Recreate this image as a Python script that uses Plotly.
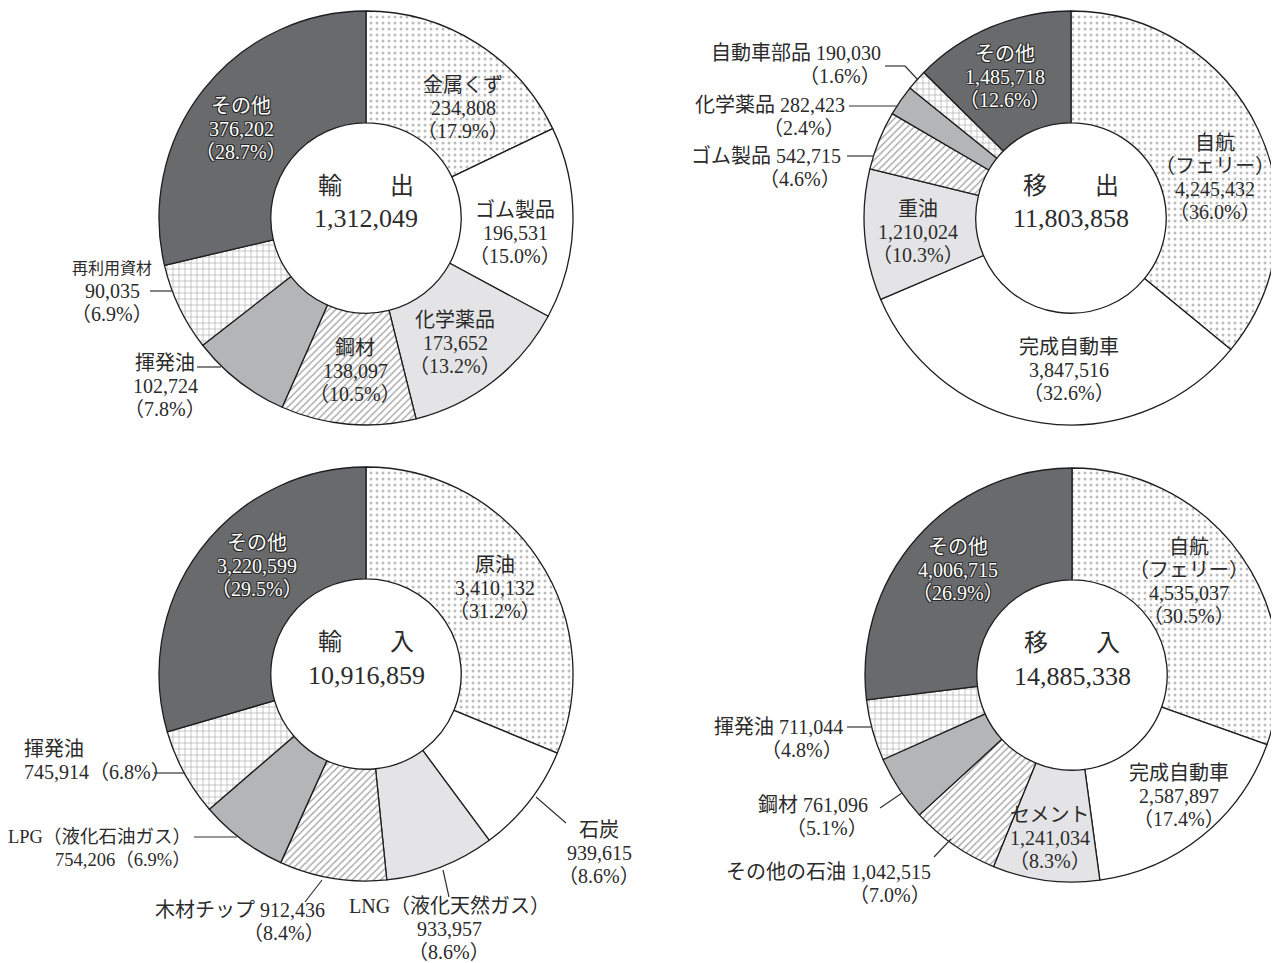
import plotly.graph_objects as go

# page body has an 8px margin: the figure is drawn 8px in from the top-left
OFF = 8
W, H = 1279 - OFF, 963 - OFF

# ---------------- data ----------------
export_names = ["金属くず", "ゴム製品", "化学薬品", "鋼材", "揮発油", "再利用資材", "その他"]
export_values = [234808, 196531, 173652, 138097, 102724, 90035, 376202]

outbound_names = ["自航\n（フェリー）", "完成自動車", "重油", "ゴム製品", "化学薬品", "自動車部品", "その他"]
outbound_values = [4245432, 3847516, 1210024, 542715, 282423, 190030, 1485718]

import_names = ["原油", "石炭", "LNG（液化天然ガス）", "木材チップ", "LPG（液化石油ガス）", "揮発油", "その他"]
import_values = [3410132, 939615, 933957, 912436, 754206, 745914, 3220599]

inbound_names = ["自航\n（フェリー）", "完成自動車", "セメント", "その他の石油", "鋼材", "揮発油", "その他"]
inbound_values = [4535037, 2587897, 1241034, 1042515, 761096, 711044, 4006715]

panel_titles = ["輸\u3000\u3000出", "移\u3000\u3000出", "輸\u3000\u3000入", "移\u3000\u3000入"]

# ---------------- styles ----------------
slice_fill = ["white", "white", "#e4e4e6", "white", "#b4b5b7", "white", "#696a6c"]
slice_shape = [".", "", "", "/", "", "+", ""]
slice_fg = ["#7a7a7a", "#000", "#000", "#4a4a4a", "#000", "#5e5e5e", "#000"]
pat_size = [6, 6, 6, 5, 6, 6, 6]
pat_solid = [0.2, 0.3, 0.3, 0.28, 0.3, 0.22, 0.3]

FONT = "Liberation Serif, Noto Sans CJK JP, serif"
TXT = "#2b2b2b"
OUTLINE = "-1px -1px 0 #2a2a2a, 1px -1px 0 #2a2a2a, -1px 1px 0 #2a2a2a, 1px 1px 0 #2a2a2a"
LS = 23  # label line spacing in px
R = 207
HOLE = 0.46

# panel geometry (pixels in the 1279x963 picture): centre x, centre y
centers = [(366, 218), (1071, 218), (366, 674), (1072, 675)]

# label layout per panel/slice: (template, x, y_first_line, anchor, colour, font sizes per line)
N3 = "{n}\n{v}\n（{p}%）"
S = [20, 20, 20, 20]
label_layout = [
    [  # 輸出
        (N3, 463, 85, "center", TXT, S),
        (N3, 515, 210, "center", TXT, S),
        (N3, 455, 320, "center", TXT, S),
        (N3, 355, 348, "center", TXT, S),
        (N3, 165, 363, "center", TXT, S),
        (N3, 112, 268, "center", TXT, [16, 20, 20]),
        (N3, 241, 106, "center", "white", S),
    ],
    [  # 移出
        (N3, 1215, 143, "center", TXT, S),
        (N3, 1069, 347, "center", TXT, S),
        (N3, 918, 209, "center", TXT, S),
        ("{n} {v}\n（{p}%）", 843, 156, "right", TXT, S),
        ("{n} {v}\n（{p}%）", 847, 105, "right", TXT, S),
        ("{n} {v}\n（{p}%）", 883, 53, "right", TXT, S),
        (N3, 1005, 54, "center", "white", S),
    ],
    [  # 輸入
        (N3, 495, 565, "center", TXT, S),
        (N3, 599, 830, "center", TXT, S),
        (N3, 449, 906, "center", TXT, S),
        ("{n} {v}\n（{p}%）", 327, 910, "right", TXT, S),
        ("{n}\n{v}（{p}%）", 193, 837, "right", TXT, [18.5, 18.5]),
        ("{n}\n{v}（{p}%）", 22, 749, "left", TXT, S),
        (N3, 257, 543, "center", "white", S),
    ],
    [  # 移入
        (N3, 1189, 547, "center", TXT, S),
        (N3, 1179, 773, "center", TXT, S),
        (N3, 1050, 815, "center", TXT, S),
        ("{n} {v}\n（{p}%）", 933, 872, "right", TXT, S),
        ("{n} {v}\n（{p}%）", 870, 805, "right", TXT, S),
        ("{n} {v}\n（{p}%）", 845, 727, "right", TXT, S),
        (N3, 958, 547, "center", "white", S),
    ],
]

# leader lines (pixel polylines)
leaders = [
    [(150, 291), (172, 291)],
    [(197, 367), (221, 367)],
    [(885, 66), (905, 66), (918, 80)],
    [(849, 106), (898, 106)],
    [(847, 156), (874, 156)],
    [(154, 773), (184, 773)],
    [(194, 837), (237, 837)],
    [(305, 902), (322, 880)],
    [(449, 897), (443, 870)],
    [(566, 823), (536, 797)],
    [(847, 727), (872, 727)],
    [(880, 808), (902, 793)],
    [(934, 857), (951, 839)],
]


def px(x, y):
    return (x - OFF) / W, 1 - (y - OFF) / H


panels = [
    (export_names, export_values),
    (outbound_names, outbound_values),
    (import_names, import_values),
    (inbound_names, inbound_values),
]

fig = go.Figure()
annotations = []

for k, (names, values) in enumerate(panels):
    cx, cy = centers[k]
    x0, y1 = px(cx - R, cy - R)
    x1, y0 = px(cx + R, cy + R)
    fig.add_trace(go.Pie(
        labels=[n.replace("\n", "") for n in names],
        values=values,
        sort=False,
        direction="clockwise",
        rotation=0,
        hole=HOLE,
        textinfo="none",
        hoverinfo="label+value+percent",
        showlegend=False,
        domain=dict(x=[x0, min(x1, 1)], y=[y0, min(y1, 1)]),
        marker=dict(
            colors=slice_fill,
            line=dict(color="#1e1e1e", width=1.3),
            pattern=dict(shape=slice_shape, fgcolor=slice_fg, size=pat_size,
                         solidity=pat_solid, fillmode="overlay"),
        ),
    ))
    total = sum(values)
    # centre texts
    x, y = px(cx, cy - 32)
    annotations.append(dict(x=x, y=y, xref="paper", yref="paper", text=panel_titles[k],
                            xanchor="center", yanchor="middle",
                            showarrow=False, font=dict(size=24, color=TXT, family=FONT)))
    x, y = px(cx, cy + 1)
    annotations.append(dict(x=x, y=y, xref="paper", yref="paper", text=f"{total:,}",
                            xanchor="center", yanchor="middle",
                            showarrow=False, font=dict(size=26, color=TXT, family=FONT)))
    # slice labels
    for i, (name, v) in enumerate(zip(names, values)):
        tpl, lx, ly, anchor, col, sizes = label_layout[k][i]
        pct = round(v / total * 100, 1)
        text = tpl.format(n=name, v=f"{v:,}", p=f"{pct:.1f}")
        for j, line in enumerate(text.split("\n")):
            size = sizes[j] if j < len(sizes) else 20
            font = dict(size=size, color=col, family=FONT)
            if col == "white":
                font["shadow"] = OUTLINE
            x, y = px(lx, ly + j * LS)
            annotations.append(dict(x=x, y=y, xref="paper", yref="paper", text=line,
                                    showarrow=False, xanchor=anchor, yanchor="middle",
                                    font=font))

shapes = []
for pts in leaders:
    for (xa, ya), (xb, yb) in zip(pts[:-1], pts[1:]):
        a0, b0 = px(xa, ya)
        a1, b1 = px(xb, yb)
        shapes.append(dict(type="line", xref="paper", yref="paper", x0=a0, y0=b0, x1=a1, y1=b1,
                           line=dict(color="#333", width=1.2)))

fig.update_layout(
    width=W, height=H,
    margin=dict(l=0, r=0, t=0, b=0),
    paper_bgcolor="white", plot_bgcolor="white",
    font=dict(family=FONT, color=TXT),
    annotations=annotations,
    shapes=shapes,
)

fig.write_html("out.html")
